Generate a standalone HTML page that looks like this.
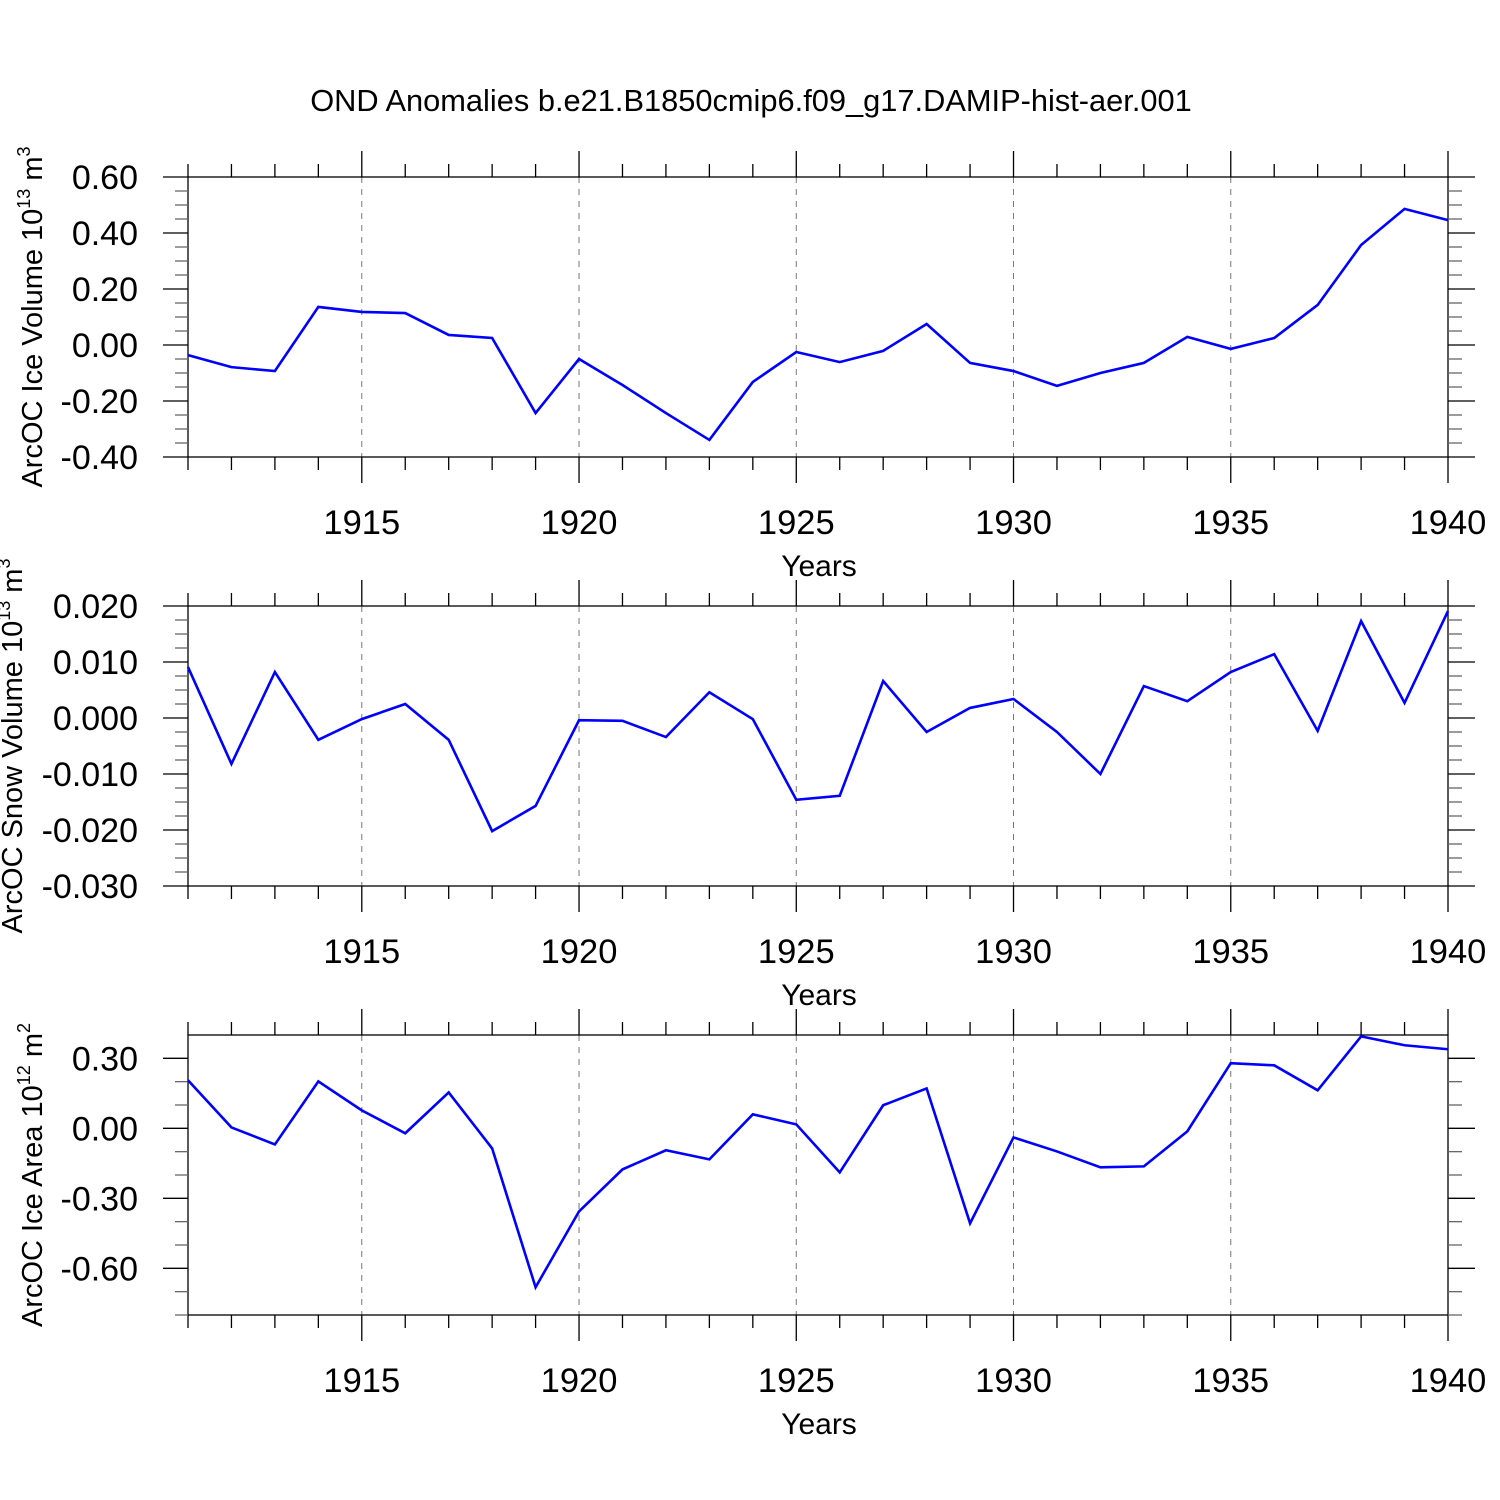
<!DOCTYPE html>
<html><head><meta charset="utf-8"><style>
html,body{margin:0;padding:0;background:#fff}
svg{display:block}
text{font-family:"Liberation Sans",sans-serif;fill:#000}
</style></head><body>
<svg id="chart" width="1500" height="1500" xmlns="http://www.w3.org/2000/svg">
<text x="751" y="111" font-size="30.8" text-anchor="middle">OND Anomalies b.e21.B1850cmip6.f09_g17.DAMIP-hist-aer.001</text>
</svg>
<script>
const years = [1911,1912,1913,1914,1915,1916,1917,1918,1919,1920,1921,1922,1923,1924,1925,1926,1927,1928,1929,1930,1931,1932,1933,1934,1935,1936,1937,1938,1939,1940];
const iceVolume = [-0.036,-0.079,-0.093,0.136,0.118,0.114,0.036,0.025,-0.243,-0.05,-0.143,-0.243,-0.339,-0.132,-0.025,-0.061,-0.021,0.075,-0.064,-0.093,-0.146,-0.1,-0.064,0.029,-0.014,0.025,0.143,0.357,0.486,0.446];
const snowVolume = [0.0091,-0.0082,0.0082,-0.0039,-0.0002,0.0025,-0.0039,-0.0202,-0.0157,-0.0004,-0.0005,-0.0034,0.0046,-0.0002,-0.0146,-0.0139,0.0066,-0.0025,0.0018,0.0034,-0.0025,-0.01,0.0057,0.003,0.0082,0.0114,-0.0023,0.0173,0.0027,0.0191];
const iceArea = [0.206,0.004,-0.069,0.201,0.077,-0.021,0.154,-0.086,-0.681,-0.356,-0.176,-0.094,-0.133,0.06,0.017,-0.189,0.099,0.171,-0.407,-0.039,-0.099,-0.167,-0.163,-0.013,0.279,0.27,0.163,0.394,0.356,0.339];
const xTickLabels = ["1915","1920","1925","1930","1935","1940"];
const xTickYears = [1915,1920,1925,1930,1935,1940];
const ticks1 = ["0.60","0.40","0.20","0.00","-0.20","-0.40"];
const ticks2 = ["0.020","0.010","0.000","-0.010","-0.020","-0.030"];
const ticks3 = ["0.30","0.00","-0.30","-0.60"];

const NS="http://www.w3.org/2000/svg";
const svg=document.getElementById('chart');
function mk(tag,attrs,parent){const e=document.createElementNS(NS,tag);for(const k in attrs)e.setAttribute(k,attrs[k]);(parent||svg).appendChild(e);return e;}

const L=188,R=1448,X0=1911,X1=1940;
function xs(v){return L+(v-X0)/(X1-X0)*(R-L);}

function panel(name,top,ymin,ymax,minorStep,tickLabels,data,titleMain,titleExp,titleUnit,titleX){
  const bot=top+280;
  function ys(v){return bot-(v-ymin)/(ymax-ymin)*280;}
  const g=mk('g',{});
  
  
  const st={stroke:'#000','stroke-width':1.3};
  xTickYears.forEach(y=>{ if(y<X1){const l=mk('line',{x1:xs(y),x2:xs(y),y1:top,y2:bot,stroke:'#777','stroke-width':1,'stroke-dasharray':'6,6'},g);
    
    }});
  const b=mk('rect',{x:L,y:top,width:R-L,height:280,fill:'none',stroke:'#000','stroke-width':1.3},g);
  
  
  years.forEach(y=>{
    const major=xTickYears.indexOf(y)>=0, len=major?26:13;
    mk('line',Object.assign({x1:xs(y),x2:xs(y),y1:top-len,y2:top},st),g);
    mk('line',Object.assign({x1:xs(y),x2:xs(y),y1:bot,y2:bot+len},st),g);
  });
  xTickLabels.forEach((t,i)=>{
    const tx=mk('text',{x:xs(xTickYears[i]),y:bot+77,'font-size':34.5,'text-anchor':'middle'},g);
    tx.textContent=t;
    
    
  });
  const xt=mk('text',{x:819,y:bot+119,'font-size':30,'text-anchor':'middle'},g);
  xt.textContent='Years';
  
  
  const n=Math.round((ymax-ymin)/minorStep);
  for(let i=0;i<=n;i++){
    const v=ymin+i*minorStep, y=ys(v);
    const lab=tickLabels.some(t=>Math.abs(parseFloat(t)-v)<minorStep/10);
    if(!lab && i===n) continue;
    const len=lab?25:13;
    mk('line',Object.assign({x1:L-len,x2:L,y1:y,y2:y},st,lab?{}:{stroke:'#666'}),g);
    mk('line',Object.assign({x1:R,x2:R+len+(lab?2:1),y1:y,y2:y},st,lab?{}:{stroke:'#666'}),g);
  }
  tickLabels.forEach(t=>{
    const tx=mk('text',{x:138,y:ys(parseFloat(t))+12,'font-size':34,'text-anchor':'end'},g);
    tx.textContent=t;
    
    
  });
  const cy=(top+bot)/2;
  const yt=mk('text',{x:0,y:0,'font-size':29,'text-anchor':'middle',transform:`translate(${titleX},${cy}) rotate(-90)`},g);
  const t1=mk('tspan',{},yt);t1.textContent=titleMain+' 10';
  const t2=mk('tspan',{dy:-12,'font-size':18},yt);t2.textContent=titleExp;
  const t3=mk('tspan',{dy:12},yt);t3.textContent=' m';
  const t4=mk('tspan',{dy:-12,'font-size':18},yt);t4.textContent=titleUnit;
  
  
  const p=mk('polyline',{points:data.map((v,i)=>xs(years[i])+','+ys(v)).join(' '),fill:'none',stroke:'#0000ff','stroke-width':2.6,'stroke-linejoin':'miter'},g);
  
  
}
panel('ice-volume',177,-0.4,0.6,0.05,ticks1,iceVolume,'ArcOC Ice Volume','13','3',42);
panel('snow-volume',606,-0.03,0.02,0.0025,ticks2,snowVolume,'ArcOC Snow Volume','13','3',22);
panel('ice-area',1035,-0.8,0.4,0.1,ticks3,iceArea,'ArcOC Ice Area','12','2',42);
</script>
</body></html>
